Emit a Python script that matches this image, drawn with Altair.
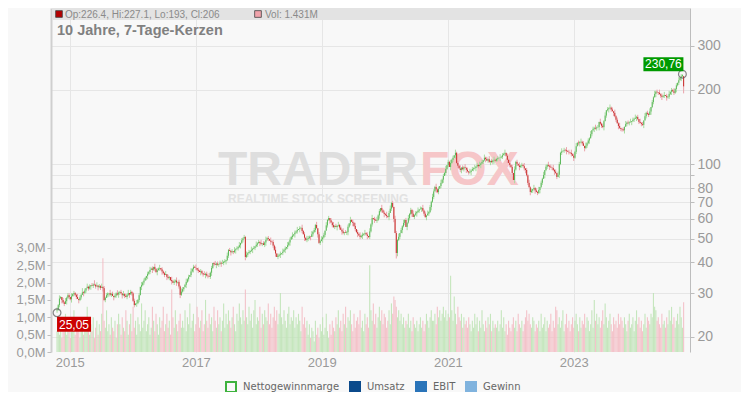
import altair as alt
import pandas as pd

# ---------------- data (weekly candles) ----------------
# weekly closes, one list per chart year (Oct -> Oct), 52 weeks each
close_y1 = [25.8, 26.9, 28.6, 29.0, 28.2, 27.6, 27.2, 27.9, 28.8, 29.5, 29.0, 28.4, 29.2, 29.8, 30.1, 29.6, 29.0, 28.5, 28.2, 28.9,
            29.6, 30.3, 30.1, 30.8, 31.5, 31.9, 31.4, 32.0, 32.4, 32.2, 32.6, 32.5, 32.0, 32.3, 31.8, 32.1, 31.6, 31.9, 31.5, 28.2,
            28.8, 29.5, 30.0, 30.1, 29.6, 29.9, 29.3, 29.0, 29.4, 30.0, 29.7, 30.2]
close_y2 = [30.4, 30.0, 29.5, 29.8, 29.3, 29.0, 29.6, 30.1, 29.7, 30.4, 30.0, 28.0, 26.9, 27.3, 27.4, 28.2, 29.5, 31.9, 32.4, 33.2,
            33.8, 34.6, 35.3, 36.0, 36.6, 37.3, 37.8, 37.4, 38.4, 37.6, 36.6, 37.2, 37.8, 38.0, 37.5, 36.8, 36.2, 35.6, 35.9, 35.0,
            34.6, 34.9, 34.0, 33.6, 33.1, 33.5, 33.8, 33.2, 33.4, 32.0, 29.6, 30.5]
close_y3 = [31.2, 31.8, 32.5, 33.4, 34.2, 35.0, 35.6, 36.8, 37.6, 38.4, 38.1, 38.0, 37.4, 37.0, 36.6, 36.9, 36.2, 35.8, 35.6, 36.0,
            35.4, 35.2, 35.0, 36.4, 38.0, 39.8, 39.4, 39.1, 39.6, 39.2, 39.5, 39.9, 39.6, 39.8, 40.2, 40.5, 40.9, 42.6, 44.9, 44.5,
            44.0, 44.4, 44.1, 44.8, 45.2, 45.6, 46.2, 47.0, 48.0, 49.2, 50.0, 50.7]
close_y4 = [42.1, 43.0, 43.6, 44.1, 44.6, 45.0, 45.4, 45.8, 46.5, 47.2, 47.8, 48.4, 48.0, 47.5, 47.8, 47.1, 48.2, 49.4, 50.2, 49.8,
            49.0, 48.6, 48.4, 46.8, 45.0, 43.5, 42.1, 42.6, 43.0, 43.4, 43.7, 44.2, 45.0, 45.6, 46.2, 47.0, 48.2, 49.5, 50.7, 51.4,
            52.0, 52.8, 53.4, 54.1, 54.6, 55.0, 55.2, 53.6, 52.0, 50.4, 49.3, 49.8]
close_y5 = [50.2, 50.9, 50.7, 52.0, 53.2, 54.1, 56.7, 55.0, 52.0, 48.0, 48.8, 49.6, 50.5, 51.7, 53.8, 56.5, 59.4, 60.5, 59.2, 58.0,
            56.6, 55.7, 56.2, 55.6, 56.4, 56.7, 55.4, 54.2, 53.4, 52.6, 53.0, 52.7, 53.1, 55.8, 57.6, 59.4, 58.4, 57.8, 56.2, 54.6,
            53.1, 52.2, 51.4, 50.7, 51.3, 51.8, 52.3, 52.6, 51.9, 51.2, 50.7, 53.4]
close_y6 = [57.0, 60.5, 60.0, 59.6, 59.0, 59.4, 62.0, 64.5, 66.4, 65.0, 63.6, 62.8, 62.3, 61.6, 61.1, 63.4, 66.0, 69.6, 67.1, 60.0,
            52.6, 43.7, 49.3, 50.8, 52.6, 54.1, 56.0, 57.8, 59.4, 55.7, 58.0, 60.4, 62.8, 65.2, 63.0, 61.1, 62.4, 63.2, 64.0, 64.8,
            65.6, 66.0, 66.4, 64.8, 63.0, 61.1, 62.0, 63.0, 64.0, 67.0, 70.4, 73.6]
close_y7 = [77.5, 80.8, 79.0, 77.0, 79.5, 81.5, 83.9, 86.5, 89.5, 92.0, 95.5, 99.0, 102.0, 97.3, 101.0, 104.0, 106.0, 108.5, 111.0, 101.0,
            98.5, 96.0, 94.6, 96.8, 95.2, 97.0, 96.4, 94.8, 93.5, 92.4, 92.9, 94.0, 95.4, 96.0, 96.4, 97.8, 99.2, 98.0, 99.2, 100.5,
            102.0, 103.6, 106.0, 104.8, 103.2, 104.5, 102.0, 103.0, 101.8, 103.4, 104.0, 103.2]
close_y8 = [104.6, 105.4, 106.0, 106.4, 107.0, 108.5, 110.0, 111.0, 108.0, 104.0, 101.0, 99.0, 97.3, 92.0, 86.2, 95.0, 102.0, 100.2, 98.6, 97.3,
            98.4, 99.2, 98.0, 96.0, 94.6, 90.0, 83.9, 80.5, 77.1, 78.0, 79.2, 80.0, 78.2, 77.0, 76.4, 78.5, 80.8, 84.0, 87.2, 90.3,
            94.5, 97.5, 99.2, 98.4, 97.6, 96.8, 96.4, 94.6, 93.2, 92.0, 88.7, 90.5]
close_y9 = [100.0, 111.0, 112.4, 113.2, 114.0, 113.6, 112.8, 112.0, 111.5, 111.0, 109.5, 108.0, 106.0, 112.0, 118.0, 122.0, 121.4, 122.6, 123.0, 121.2,
            118.4, 116.0, 118.6, 121.4, 124.5, 127.0, 132.0, 137.0, 138.8, 140.0, 139.2, 140.5, 141.0, 148.0, 145.5, 142.8, 141.0, 149.0, 157.0, 165.0,
            166.5, 168.0, 169.0, 166.0, 163.4, 161.0, 156.0, 151.0, 146.0, 142.5, 140.0, 138.6]
close_y10 = [138.0, 137.0, 141.5, 145.0, 147.0, 146.2, 147.4, 148.0, 149.2, 151.0, 152.4, 153.8, 155.0, 152.0, 148.0, 146.4, 145.0, 144.0, 150.0, 156.0,
             161.0, 159.5, 158.0, 163.0, 170.0, 178.0, 186.0, 192.0, 196.0, 195.0, 194.0, 191.4, 189.0, 187.0, 188.6, 190.0, 188.5, 186.0, 187.0, 192.0,
             196.0, 199.0, 196.5, 194.0, 201.0, 208.0, 213.0, 218.0, 223.0, 226.4, 229.0, 206.0]

# upper / lower wick length in percent per week (one digit per week)
wick_up = ["2131021312" "2031211302" "1412031202" "1413021302" "1210312021" "31",
           "1203121302" "1120312031" "2102131203" "1213021130" "2103121302" "13",
           "2013120312" "1302121031" "2031201312" "0213120312" "1203121302" "12",
           "1312031203" "1213021312" "0312130212" "0312031213" "0213021312" "03",
           "2103121302" "1312031202" "1312031213" "0212031213" "0213120312" "03",
           "1302131203" "1213023120" "3213021312" "0312130213" "0213120312" "13",
           "2131203121" "3021312031" "2130213120" "3121302131" "2031213021" "31",
           "1203121302" "1312031203" "1213021312" "0312130213" "0213120312" "03",
           "2130213120" "3121302131" "2031213021" "3120312130" "2131203121" "30",
           "1203121302" "1312031203" "1213021312" "0312130213" "0213120312" "00"]
wick_dn = ["3120312031" "2130212031" "2031202130" "2120312031" "2023120312" "13",
           "2031202130" "2120312031" "2023120312" "1302131203" "1213021312" "31",
           "1203120213" "0212031203" "1202312031" "2130213120" "3121302131" "20",
           "3120213021" "2031202312" "0312130213" "1203121302" "1312031203" "12",
           "2130212031" "2031202130" "2120312031" "2023120312" "1302131203" "12",
           "1213021312" "0312130213" "0531203120" "3121302131" "2031213021" "31",
           "2031202130" "2120312031" "2023120312" "1302131203" "1213021312" "31",
           "1203120213" "0212031203" "1202312031" "2130213120" "3121302131" "20",
           "3120213021" "2031202312" "0312130213" "1203121302" "1312031203" "12",
           "2130212031" "2031202130" "2120312031" "2023120312" "1302131203" "16"]

# weekly volume in 0.1 million shares
vol_y1 = [6, 9, 5, 7, 4, 8, 6, 11, 5, 7, 9, 4, 6, 8, 12, 5, 7, 6, 10, 4, 8, 7, 5, 9, 6, 13, 7, 5, 8, 6, 10, 4, 7, 9, 5, 8, 6, 11, 27, 9, 7, 12, 6, 8, 5, 10, 7, 6, 9, 4, 8, 11]
vol_y2 = [8, 5, 10, 7, 6, 12, 9, 5, 8, 11, 6, 13, 7, 9, 5, 10, 8, 6, 14, 7, 9, 12, 6, 8, 10, 5, 7, 13, 9, 6, 11, 8, 5, 10, 7, 9, 13, 6, 8, 11, 7, 9, 5, 18, 10, 7, 12, 8, 6, 9, 11, 7]
vol_y3 = [9, 7, 12, 6, 10, 8, 14, 7, 9, 11, 6, 8, 13, 10, 7, 9, 12, 6, 8, 15, 9, 7, 11, 8, 10, 6, 13, 9, 7, 12, 8, 10, 6, 9, 14, 7, 11, 8, 12, 9, 7, 10, 13, 8, 6, 11, 9, 14, 10, 8, 12, 9]
vol_y4 = [18, 10, 8, 13, 9, 11, 7, 12, 15, 8, 10, 9, 13, 7, 11, 8, 12, 10, 9, 14, 8, 11, 7, 10, 13, 9, 12, 8, 11, 17, 10, 8, 12, 9, 7, 11, 13, 8, 10, 9, 12, 7, 10, 8, 11, 9, 6, 13, 8, 10, 7, 9]
vol_y5 = [5, 8, 4, 7, 6, 3, 9, 5, 7, 4, 8, 6, 10, 5, 7, 11, 6, 4, 8, 5, 9, 7, 6, 10, 8, 12, 7, 9, 6, 11, 8, 13, 7, 10, 9, 12, 8, 6, 11, 7, 9, 10, 8, 12, 7, 9, 6, 11, 8, 10, 7, 25]
vol_y6 = [12, 9, 14, 8, 11, 7, 10, 13, 9, 12, 8, 11, 10, 7, 9, 12, 8, 14, 11, 16, 15, 13, 10, 12, 9, 11, 8, 10, 7, 9, 8, 11, 7, 9, 6, 10, 8, 7, 9, 6, 8, 10, 7, 9, 6, 8, 11, 9, 7, 10, 12, 9]
vol_y7 = [9, 11, 8, 13, 10, 12, 9, 11, 13, 10, 12, 9, 11, 10, 22, 12, 9, 16, 11, 8, 13, 10, 9, 11, 7, 10, 8, 9, 7, 10, 8, 6, 9, 7, 11, 8, 10, 6, 9, 7, 12, 8, 6, 9, 7, 10, 8, 11, 6, 9, 7, 8]
vol_y8 = [7, 9, 6, 8, 12, 7, 10, 6, 8, 5, 9, 7, 6, 8, 10, 7, 9, 6, 11, 8, 7, 9, 6, 8, 10, 12, 9, 11, 8, 7, 10, 9, 6, 8, 7, 9, 6, 11, 7, 8, 10, 6, 9, 7, 8, 11, 6, 9, 7, 13, 12, 8]
vol_y9 = [10, 7, 9, 12, 6, 8, 11, 7, 9, 6, 8, 10, 7, 9, 11, 8, 6, 10, 7, 9, 8, 11, 7, 10, 9, 6, 8, 12, 7, 15, 9, 11, 8, 10, 7, 9, 12, 8, 14, 10, 7, 9, 11, 8, 6, 10, 8, 9, 7, 11, 8, 10]
vol_y10 = [9, 7, 10, 8, 6, 9, 11, 7, 8, 10, 6, 9, 12, 8, 10, 7, 9, 6, 8, 11, 7, 10, 9, 8, 11, 10, 17, 13, 12, 9, 10, 8, 7, 11, 8, 9, 7, 10, 8, 12, 9, 13, 8, 10, 7, 9, 11, 8, 13, 10, 7, 14.31]

first_open = 25.6
period_low = 25.05          # marked low (first week)
period_high = 230.76        # marked high (week before last)
last_candle = {"open": 226.4, "high": 227.1, "low": 193.0, "close": 206.0}

year_ticks = [2015, 2017, 2019, 2021, 2023]
price_ticks = [20, 30, 40, 50, 60, 70, 80, 90, 100, 200, 300]
vol_ticks = [0, 0.5, 1.0, 1.5, 2.0, 2.5, 3.0]
header_text = "Op:226.4, Hi:227.1, Lo:193, Cl:206"
header_vol = "Vol: 1.431M"
title_text = "10 Jahre, 7-Tage-Kerzen"
legend_labels = ["Nettogewinnmarge", "Umsatz", "EBIT", "Gewinn"]

# ---------------- table ----------------
closes = (close_y1 + close_y2 + close_y3 + close_y4 + close_y5 + close_y6 + close_y7
          + close_y8 + close_y9 + close_y10)
vols = [v / 10 for v in (vol_y1 + vol_y2 + vol_y3 + vol_y4 + vol_y5 + vol_y6 + vol_y7
                         + vol_y8 + vol_y9 + vol_y10)]
ups = [int(c) for c in "".join(wick_up)]
dns = [int(c) for c in "".join(wick_dn)]
n = len(closes)
opens = [first_open] + closes[:-1]
highs = [max(o, c) * (1 + u / 100) for o, c, u in zip(opens, closes, ups)]
lows = [min(o, c) * (1 - d / 100) for o, c, d in zip(opens, closes, dns)]
lows[0] = period_low
highs[n - 2] = period_high
opens[n - 1] = last_candle["open"]
highs[n - 1] = last_candle["high"]
lows[n - 1] = last_candle["low"]
closes[n - 1] = last_candle["close"]

dates = pd.date_range("2014-10-19", periods=n, freq="7D").strftime("%Y-%m-%d")
df = pd.DataFrame({"date": dates, "open": opens, "high": highs, "low": lows,
                   "close": closes, "vol": vols})

# ---------------- styling ----------------
W, H = 639, 344
GREEN, RED = "#5cb85c", "#c9302c"
GREEN_L, RED_L = "#a9dba0", "#eaa3ab"
VGREEN, VRED = "#bfe3b6", "#f3bcc4"
AX = "#9a9a9a"
FONT = "Liberation Sans"

xscale = alt.Scale(type="utc", domain=[alt.DateTime(year=2014, month=10, date=13, utc=True),
                                       alt.DateTime(year=2024, month=10, date=7, utc=True)])
xaxis = alt.Axis(values=[alt.DateTime(year=y, month=1, date=1, utc=True) for y in year_ticks],
                 format="%Y", title=None, grid=True, gridColor="#e6e6e6", domain=False,
                 ticks=False, labelColor=AX, labelFontSize=13, labelFont=FONT, labelPadding=4)
X = alt.X("date:T", scale=xscale, axis=xaxis)

pscale = alt.Scale(type="log", domain=[17.39, 427.2], nice=False)
paxis = alt.Axis(orient="right", values=price_ticks, format="d", title=None, grid=True,
                 gridColor="#e6e6e6", domainColor="#bdbdbd", tickColor="#bdbdbd", tickSize=4,
                 labelColor=AX, labelFontSize=14, labelFont=FONT, labelPadding=3)
vaxis = alt.Axis(orient="left", values=vol_ticks, title=None, grid=False,
                 labelExpr="replace(format(datum.value, '.1f'), '.', ',') + 'M'",
                 domainColor="#cfcfcf", domainWidth=2, tickColor="#bdbdbd", tickSize=4,
                 labelColor=AX, labelFontSize=13, labelFont=FONT, labelPadding=2)

up_cond = "datum.close >= datum.open"
base = alt.Chart(df)

volume = base.mark_bar(width=1.1, opacity=0.9).encode(
    x=X,
    y=alt.Y("vol:Q", scale=alt.Scale(domain=[0, 9.91], nice=False), axis=vaxis),
    color=alt.condition(up_cond, alt.value(VGREEN), alt.value(VRED)),
)

wick = base.mark_rule(strokeWidth=1).encode(
    x=X,
    y=alt.Y("low:Q", scale=pscale, axis=paxis),
    y2="high:Q",
    color=alt.condition(up_cond, alt.value(GREEN_L), alt.value(RED_L)),
)
body = base.mark_rule(strokeWidth=1).encode(
    x=X, y=alt.Y("open:Q"), y2="close:Q",
    color=alt.condition(up_cond, alt.value(GREEN), alt.value(RED)),
)

marks_df = pd.DataFrame({"date": [dates[0], dates[n - 2]], "price": [period_low, period_high],
                         "label": ["25,05", "230,76"]})
lo_df = marks_df.iloc[[0]]
hi_df = marks_df.iloc[[1]]
circles = alt.Chart(marks_df).mark_point(shape="circle", filled=False, size=60, stroke="#555555",
                                          strokeWidth=1.2).encode(x=X, y=alt.Y("price:Q"))
lo_box = alt.Chart(lo_df).mark_rect(color="#cc0000", xOffset=0, x2Offset=34, yOffset=4,
                                    y2Offset=19).encode(x=X, x2="date:T", y="price:Q", y2="price:Q")
lo_txt = alt.Chart(lo_df).mark_text(color="white", fontSize=12, font=FONT, dx=17, dy=12).encode(
    x=X, y="price:Q", text="label:N")
hi_box = alt.Chart(hi_df).mark_rect(color="#009a00", xOffset=-39, x2Offset=1, yOffset=-17,
                                    y2Offset=-3).encode(x=X, x2="date:T", y="price:Q", y2="price:Q")
hi_txt = alt.Chart(hi_df).mark_text(color="white", fontSize=12, font=FONT, dx=-19, dy=-10).encode(
    x=X, y="price:Q", text="label:N")

price = alt.layer(wick, body, circles, lo_box, lo_txt, hi_box, hi_txt)

one = pd.DataFrame({"k": [0]})
wm = alt.layer(
    alt.Chart(one).mark_text(text="TRADER", font=FONT, fontWeight="bold", fontSize=48, color="#dedede",
                             align="left", baseline="alphabetic").encode(x=alt.value(167), y=alt.value(177)),
    alt.Chart(one).mark_text(text="FOX", font=FONT, fontWeight="bold", fontSize=48, color="#f6c6c8",
                             align="left", baseline="alphabetic").encode(x=alt.value(369), y=alt.value(177)),
    alt.Chart(one).mark_text(text="REALTIME STOCK SCREENING", font=FONT, fontWeight="bold", fontSize=12,
                             color="#e2e2e2", align="left", baseline="middle").encode(x=alt.value(177), y=alt.value(191)),
)

header = alt.layer(
    alt.Chart(one).mark_rect(color="#e3e3e3").encode(x=alt.value(1), x2=alt.value(639), y=alt.value(0), y2=alt.value(12)),
    alt.Chart(one).mark_square(size=45, color="#b50000", stroke="#444444", strokeWidth=0.8, opacity=1).encode(
        x=alt.value(8), y=alt.value(6)),
    alt.Chart(one).mark_text(text=header_text, font=FONT, fontSize=10, color="#8a8a8a",
                             align="left", baseline="middle").encode(x=alt.value(14), y=alt.value(6.5)),
    alt.Chart(one).mark_square(size=45, color="#f0a3ab", stroke="#444444", strokeWidth=0.8, opacity=1).encode(
        x=alt.value(207), y=alt.value(6)),
    alt.Chart(one).mark_text(text=header_vol, font=FONT, fontSize=10, color="#8a8a8a",
                             align="left", baseline="middle").encode(x=alt.value(214), y=alt.value(6.5)),
    alt.Chart(one).mark_text(text=title_text, font=FONT, fontWeight="bold", fontSize=14.5, color="#808080",
                             align="left", baseline="middle").encode(x=alt.value(6), y=alt.value(23)),
)

legend_layers = []
legend_sq_x = [180, 304, 370, 420]
legend_tx_x = [192, 316, 382, 432]
legend_fill = [None, "#0b4a8b", "#2a74b9", "#80b3de"]
LEG_Y = 379
for lab, sx, tx, fc in zip(legend_labels, legend_sq_x, legend_tx_x, legend_fill):
    if fc is None:
        sq = alt.Chart(one).mark_square(size=100, filled=False, stroke="#3db23d", strokeWidth=2, opacity=1)
    else:
        sq = alt.Chart(one).mark_square(size=144, color=fc, opacity=1)
    legend_layers.append(sq.encode(x=alt.value(sx), y=alt.value(LEG_Y)))
    legend_layers.append(alt.Chart(one).mark_text(text=lab, font="DejaVu Sans", fontSize=10, color="#666666",
                                                  align="left", baseline="middle").encode(
        x=alt.value(tx), y=alt.value(LEG_Y)))

chart = alt.layer(wm, volume, price, header, *legend_layers).resolve_scale(
    y="independent"
).properties(
    width=W, height=H,
    autosize=alt.AutoSizeParams(type="none"),
    padding={"left": 43, "top": 0, "right": 51, "bottom": 40},
    background="#f8f8f8",
).configure_view(stroke=None)

chart.save("out.html", embed_options={"renderer": "svg", "actions": False})
